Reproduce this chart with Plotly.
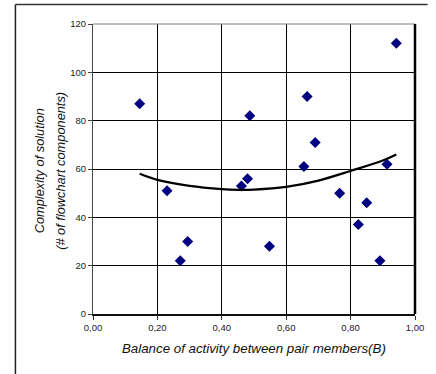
import plotly.graph_objects as go

# Data
balance = [0.145, 0.230, 0.271, 0.294, 0.461, 0.480, 0.487, 0.548, 0.655,
           0.665, 0.690, 0.766, 0.824, 0.850, 0.891, 0.913, 0.942]
complexity = [87, 51, 22, 30, 53, 56, 82, 28, 61, 90, 71, 50, 37, 46, 22, 62, 112]

# Polynomial trend line values
trend_x = [0.145, 0.20, 0.30, 0.40, 0.45, 0.50, 0.60, 0.70, 0.80, 0.90, 0.942]
trend_y = [58.0, 55.5, 53.0, 51.7, 51.4, 51.5, 52.6, 55.2, 59.2, 63.5, 66.0]

x_ticks = [0, 0.2, 0.4, 0.6, 0.8, 1.0]
y_ticks = [0, 20, 40, 60, 80, 100, 120]

FONT = "Arial, Liberation Sans, sans-serif"

fig = go.Figure()
fig.add_trace(go.Scatter(
    x=balance, y=complexity, mode="markers",
    marker=dict(symbol="diamond", size=8.5, color="#000080", line=dict(width=0)),
    showlegend=False, hoverinfo="x+y"))
fig.add_trace(go.Scatter(
    x=trend_x, y=trend_y, mode="lines",
    line=dict(color="black", width=2.2, shape="spline"),
    showlegend=False, hoverinfo="skip"))

L, R, T, B = 93, 13, 24, 60
W, H = 436, 374
pw, ph = W - L - R, H - T - B

def px(xp):
    return (xp - L) / pw

def py(yp):
    return (H - B - yp) / ph

fig.update_layout(
    width=W, height=H,
    margin=dict(l=L, r=R, t=T, b=B, pad=0),
    paper_bgcolor="white", plot_bgcolor="white",
    separators=",.",
    font=dict(family=FONT, size=9, color="#222222"),
    xaxis=dict(range=[0, 1], tickvals=x_ticks, tickformat=".2f",
               showgrid=True, gridcolor="black", gridwidth=1,
               zeroline=False, showline=True, linecolor="#111111", linewidth=2,
               ticks="outside", ticklen=4, tickcolor="#333333",
               tickfont=dict(size=9.5, color="#222222")),
    yaxis=dict(range=[0, 120], tickvals=y_ticks,
               showgrid=True, gridcolor="black", gridwidth=1,
               zeroline=False, showline=True, linecolor="#444444", linewidth=1,
               ticks="outside", ticklen=4, tickcolor="#444444",
               tickfont=dict(size=9.5, color="#222222")),
    shapes=[
        dict(type="line", xref="paper", yref="paper", x0=0, x1=1, y0=1, y1=1,
             line=dict(color="#808080", width=1)),
        dict(type="line", xref="paper", yref="paper", x0=1, x1=1, y0=0, y1=1,
             line=dict(color="black", width=2.5)),
        dict(type="line", xref="paper", yref="paper", layer="above",
             x0=px(13.5), x1=px(436), y0=py(4.5), y1=py(4.5),
             line=dict(color="#333333", width=1.5)),
        dict(type="line", xref="paper", yref="paper", layer="above",
             x0=px(13.5), x1=px(13.5), y0=py(4.5), y1=py(374),
             line=dict(color="#222222", width=1.5)),
    ],
    annotations=[
        dict(text="<i>Balance of activity between pair members(B)</i>",
             xref="paper", yref="paper", x=px(258), y=py(348),
             showarrow=False, xanchor="center", yanchor="middle",
             font=dict(family=FONT, size=13.3, color="#111111")),
        dict(text="<i>Complexity of solution</i>",
             xref="paper", yref="paper", x=px(38), y=py(171),
             showarrow=False, xanchor="center", yanchor="middle",
             font=dict(family=FONT, size=12.8, color="#111111"), textangle=-90),
        dict(text="<i>(# of flowchart components)</i>",
             xref="paper", yref="paper", x=px(59), y=py(171),
             showarrow=False, xanchor="center", yanchor="middle",
             font=dict(family=FONT, size=12.8, color="#111111"), textangle=-90),
    ],
)

fig.write_html("out.html", config={"displayModeBar": False},
               post_script="document.body.style.margin='0';document.body.style.overflow='hidden';")
